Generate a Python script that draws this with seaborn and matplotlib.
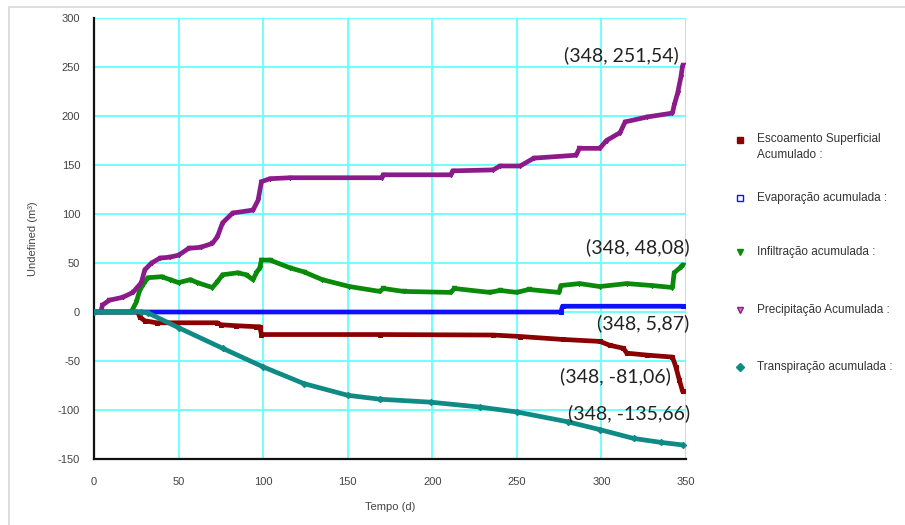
import matplotlib
matplotlib.use("Agg")
import matplotlib.pyplot as plt
from matplotlib.lines import Line2D
from matplotlib.patches import Rectangle
import numpy as np
import pandas as pd
import seaborn as sns

# Cumulative water balance terms (m³) against time (days)
dias_escoamento = [0, 26, 27, 30, 37, 73, 75, 84, 96, 98, 99, 169, 236, 252, 277, 299,
                   305, 313, 315, 327, 342, 344, 346, 348]
escoamento = [0, 0, -5, -9, -11, -11, -13, -14, -15, -15, -23, -23, -23.5, -25, -28, -30,
              -34, -37, -42, -44, -46, -56, -69, -81.06]

dias_evaporacao = [0, 276, 277, 348]
evaporacao = [0, 0, 5.87, 5.87]

dias_infiltracao = [0, 22, 25, 27, 29, 30, 32, 40, 45, 50, 57, 61, 70, 73, 76, 85, 90, 94,
                    96, 98, 99, 104, 116, 124, 135, 151, 169, 171, 183, 211, 213, 234, 240,
                    250, 257, 275, 276, 287, 299, 315, 330, 342, 343, 347, 348]
infiltracao = [0, 0, 10, 22, 28, 31, 35, 36, 33, 30, 33, 30, 25, 31, 38, 40, 38, 33,
               40, 45, 53, 53, 45, 41, 33, 26, 21, 24, 21, 20, 24, 20, 22,
               20, 23, 20, 27, 29, 26, 29, 27, 25, 40, 46, 48.08]

dias_precipitacao = [4, 5, 9, 17, 23, 28, 30, 34, 39, 45, 50, 56, 63, 70, 73, 76, 82, 94,
                     97, 99, 104, 116, 170, 171, 211, 212, 236, 240, 252, 260, 285, 287,
                     299, 303, 311, 314, 327, 342, 343, 345, 347, 348]
precipitacao = [0, 7, 12, 15, 20, 30, 43, 50, 55, 56, 58, 65, 66, 70, 77, 91, 101, 104,
                114, 133, 136, 137, 137, 140, 140, 144, 145, 149, 149, 157, 160, 167,
                167, 175, 183, 194, 199, 203, 211, 223, 240, 251.54]

dias_transpiracao = [0, 28, 32, 50, 76, 100, 124, 150, 169, 199, 228, 250, 280, 299, 319,
                     335, 348]
transpiracao = [0, 0, -1, -16, -37, -56, -73, -85, -89, -92, -97, -102, -112, -120, -129,
                -133, -135.66]

series = [
    ("Escoamento Superficial\nAcumulado :", dias_escoamento, escoamento, "#8b0000", "s", "#8b0000"),
    ("Evaporação acumulada :", dias_evaporacao, evaporacao, "#1010ff", "s", "white"),
    ("Infiltração acumulada :", dias_infiltracao, infiltracao, "#0a8a0a", "v", "#0a8a0a"),
    ("Precipitação Acumulada :", dias_precipitacao, precipitacao, "#8b1a8b", "v", "#c080c0"),
    ("Transpiração acumulada :", dias_transpiracao, transpiracao, "#0f8a84", "D", "#0f8a84"),
]

rotulos = [
    ("(348, 251,54)", 345.5, 262),
    ("(348, 48,08)", 352.0, 66),
    ("(348, 5,87)", 352.0, -11.5),
    ("(348, -81,06)", 341.0, -66),
    ("(348, -135,66)", 352.5, -103),
]

sns.set_theme(style="white")
plt.rcParams["font.family"] = ["Liberation Sans", "DejaVu Sans"]
plt.rcParams["axes.unicode_minus"] = False

fig = plt.figure(figsize=(9.05, 5.25), dpi=100)
ax = fig.add_axes([94 / 905, 1 - 459 / 525, (686 - 94) / 905, (459 - 18) / 525])

# light frame around the whole figure
fig.patches.append(Rectangle((9 / 905, -0.1), 1.2, (525 - 7) / 525 + 0.1,
                             transform=fig.transFigure, fill=False,
                             edgecolor="#d8d8d8", linewidth=1.2, zorder=0))

for nome, dias, valores, cor, marcador, preench in series:
    df = pd.DataFrame({"Tempo": dias, "Valor": valores})
    sns.lineplot(data=df, x="Tempo", y="Valor", ax=ax, color=cor, linewidth=3.4,
                 estimator=None, sort=False, marker=marcador, markersize=3.2,
                 markerfacecolor=cor, markeredgecolor=cor, legend=False, zorder=3)

ax.set_xlim(0, 350)
ax.set_ylim(-150, 300)
ax.set_xticks(np.arange(0, 351, 50))
ax.set_yticks(np.arange(-150, 301, 50))
ax.grid(True, color="#70ffff", linewidth=1.4)
ax.set_axisbelow(True)
for lado in ["top", "right"]:
    ax.spines[lado].set_visible(False)
for lado in ["left", "bottom"]:
    ax.spines[lado].set_color("#111111")
    ax.spines[lado].set_linewidth(1.6)
ax.tick_params(axis="both", direction="inout", length=18, width=1.6, color="#111111",
               labelsize=8, labelcolor="#444444")
ax.tick_params(axis="y", pad=1)
ax.tick_params(axis="x", pad=4)
ax.set_xlabel("Tempo (d)", fontsize=8, color="#444444", labelpad=11)
ax.set_ylabel("Undefined (m³)", fontsize=8, color="#444444", labelpad=14)

for texto, x, y in rotulos:
    ax.text(x, y, texto, ha="right", va="center", fontsize=14, color="#222222",
            family=["Lato", "DejaVu Sans"], clip_on=False, zorder=5)

# legend entries: marker plus label, placed down the right margin
legenda_y = [140, 198, 252, 310, 367]
for (nome, _, _, cor, marcador, preench), yp in zip(series, legenda_y):
    yf = 1 - yp / 525
    fig.add_artist(Line2D([740 / 905], [yf], transform=fig.transFigure, linestyle="none",
                          marker=marcador, color=cor, markerfacecolor=preench,
                          markeredgecolor=cor, markersize=4.5))
    if "\n" in nome:
        fig.text(757 / 905, yf + 7 / 525, nome, ha="left", va="top", fontsize=8.5,
                 color="#333333", linespacing=1.45)
    else:
        fig.text(757 / 905, yf, nome, ha="left", va="center", fontsize=8.5,
                 color="#333333")

fig.savefig("out.png", dpi=100)
